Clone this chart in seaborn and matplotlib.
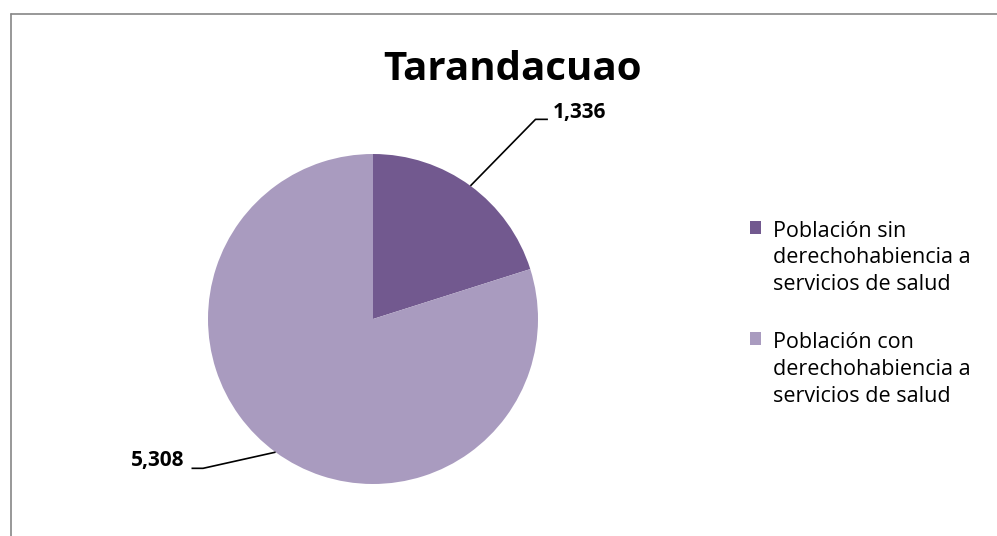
import numpy as np
import matplotlib
matplotlib.use("Agg")
import matplotlib.pyplot as plt
from matplotlib.lines import Line2D
from matplotlib.patches import Patch
import seaborn as sns

# data
categories = ["Población sin\nderechohabiencia a\nservicios de salud",
              "Población con\nderechohabiencia a\nservicios de salud"]
values = [1336, 5308]
value_labels = ["1,336", "5,308"]
title = "Tarandacuao"

sns.set_style("white")
plt.rcParams['font.family'] = ['Open Sans', 'DejaVu Sans']
plt.rcParams['text.color'] = 'black'
colors = sns.color_palette(["#72598f", "#a99bbf"])

fig = plt.figure(figsize=(9.97, 5.36), dpi=100)

# pie axes placed so the pie is centered near (373, 319) px, r = 165 px
W, H = 997, 536
cx, cy, r = 373, 319, 165
ax = fig.add_axes([(cx - r) / W, (H - cy - r) / H, 2 * r / W, 2 * r / H])
wedges, _ = ax.pie(values, colors=colors, startangle=90, counterclock=False,
                   radius=1, wedgeprops=dict(linewidth=0))
ax.set_xlim(-1, 1)
ax.set_ylim(-1, 1)
ax.set_aspect("equal")
ax.axis("off")

# leader lines + labels (positions relative to pie radius)
label_pos = [(1.09, 1.25, "left"), (-1.145, -0.855, "right")]
elbow_pos = [(0.985, 1.21, 1.06), (-1.10, -0.905, -1.03)]
for w, lab, (tx, ty, ha), (ex, ey, hx) in zip(wedges, value_labels, label_pos, elbow_pos):
    ang = np.deg2rad((w.theta1 + w.theta2) / 2)
    px, py = np.cos(ang), np.sin(ang)
    if ha == "left":
        xs, ys = [px, ex, hx], [py, ey, ey]
    else:
        xs, ys = [px, hx, ex], [py, ey, ey]
    ax.plot(xs, ys, color="black", lw=1.2, clip_on=False, solid_capstyle="butt")
    ax.text(tx, ty, lab, ha=ha, va="center", fontsize=15, fontweight="bold",
            clip_on=False)

fig.text(512 / W, 1 - 80 / H, title, ha="center", va="baseline",
         fontsize=29, fontweight="bold")

handles = [Patch(facecolor=c, edgecolor="none") for c in colors]
leg = fig.legend(handles, categories, loc="upper left",
                 bbox_to_anchor=(741 / W, 1 - 212 / H), frameon=False,
                 fontsize=15.5, handlelength=0.55, handleheight=0.55,
                 handletextpad=0.55, labelspacing=1.75, borderaxespad=0)
for t in leg.get_texts():
    t.set_linespacing(1.35)
# align the colour square with the first text line
for col in leg._legend_handle_box.get_children():
    for row in col.get_children():
        row.align = "top"

# chart frame (top and left edges visible in crop)
fig.add_artist(Line2D([10.5 / W, 1], [1 - 13.5 / H, 1 - 13.5 / H],
                      transform=fig.transFigure, color="#868686", lw=1.2))
fig.add_artist(Line2D([10.5 / W, 10.5 / W], [0, 1 - 13.5 / H],
                      transform=fig.transFigure, color="#868686", lw=1.2))

fig.savefig("out.png", dpi=100)
